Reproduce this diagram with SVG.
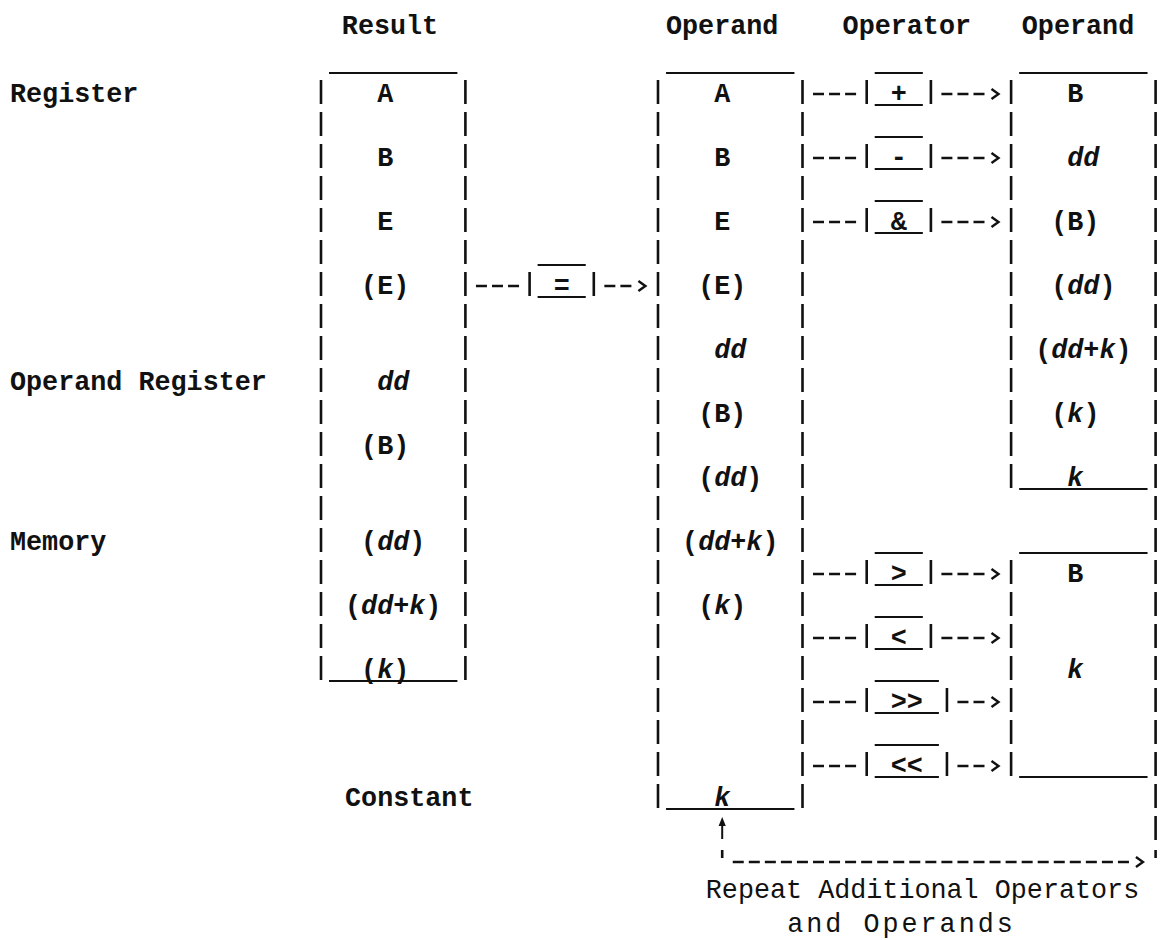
<svg xmlns="http://www.w3.org/2000/svg" xmlns:xlink="http://www.w3.org/1999/xlink" width="1160" height="940" viewBox="0 0 1160 940">
<style>
.t{font-family:"Liberation Mono","DejaVu Sans Mono",monospace;font-size:26.75px;font-weight:bold;fill:#111}
.i{font-style:italic}
.n{font-weight:normal}
.m{text-anchor:middle}
.bar{stroke:#111;stroke-width:2.6;stroke-dasharray:24 8;fill:none}
.ul{stroke:#111;stroke-width:2;fill:none}
.sb{stroke:#111;stroke-width:2.6;fill:none}
.dash{stroke:#111;stroke-width:2.6;stroke-dasharray:11 5.05;fill:none}
.arr{marker-end:url(#chev)}
</style>
<defs>
<marker id="chev" markerUnits="userSpaceOnUse" markerWidth="20" markerHeight="20" refX="-7" refY="0" orient="auto" overflow="visible">
<path d="M0,-5 L7,0 L0,5" fill="none" stroke="#111" stroke-width="2.4" stroke-dasharray="none"/>
</marker>
<g id="op3">
<line class="ul" x1="8" y1="-20" x2="56.15" y2="-20"/>
<line class="ul" x1="8" y1="12" x2="56.15" y2="12"/>
<line class="sb" x1="0" y1="-13" x2="0" y2="11"/>
<line class="sb" x1="64.2" y1="-13" x2="64.2" y2="11"/>
</g>
<g id="op4">
<line class="ul" x1="8" y1="-20" x2="72.2" y2="-20"/>
<line class="ul" x1="8" y1="12" x2="72.2" y2="12"/>
<line class="sb" x1="0" y1="-13" x2="0" y2="11"/>
<line class="sb" x1="80.25" y1="-13" x2="80.25" y2="11"/>
</g>
</defs>
<rect width="1160" height="940" fill="#fff"/>

<g id="headers">
<text class="t m" x="390" y="34">Result</text>
<text class="t m" x="722.2" y="34">Operand</text>
<text class="t m" x="906.8" y="34">Operator</text>
<text class="t m" x="1078" y="34">Operand</text>
</g>

<g id="labels">
<text class="t" x="10" y="102">Register</text>
<text class="t" x="10" y="390">Operand Register</text>
<text class="t" x="10" y="550">Memory</text>
<text class="t" x="345.05" y="806">Constant</text>
</g>

<g id="result">
<line class="ul" x1="329" y1="73" x2="457.4" y2="73"/>
<line class="ul" x1="329" y1="681" x2="457.4" y2="681"/>
<line class="bar" x1="321" y1="80" x2="321" y2="680"/>
<line class="bar" x1="465.4" y1="80" x2="465.4" y2="680"/>
<text class="t" x="377.15" y="102">A</text>
<text class="t" x="377.15" y="166">B</text>
<text class="t" x="377.15" y="230">E</text>
<text class="t" x="361.1" y="294">(E)</text>
<text class="t i" x="377.15" y="390">dd</text>
<text class="t" x="361.1" y="454">(B)</text>
<text class="t" x="361.1" y="550">(<tspan class="i">dd</tspan>)</text>
<text class="t" x="345.05" y="614">(<tspan class="i">dd</tspan>+<tspan class="i">k</tspan>)</text>
<text class="t" x="361.1" y="678">(<tspan class="i">k</tspan>)</text>
</g>

<g id="operand">
<line class="ul" x1="666.05" y1="73" x2="794.45" y2="73"/>
<line class="ul" x1="666.05" y1="809" x2="794.45" y2="809"/>
<line class="bar" x1="658" y1="80" x2="658" y2="808"/>
<line class="bar" x1="802.5" y1="80" x2="802.5" y2="808"/>
<text class="t" x="714.2" y="102">A</text>
<text class="t" x="714.2" y="166">B</text>
<text class="t" x="714.2" y="230">E</text>
<text class="t" x="698.15" y="294">(E)</text>
<text class="t i" x="714.2" y="358">dd</text>
<text class="t" x="698.15" y="422">(B)</text>
<text class="t" x="698.15" y="486">(<tspan class="i">dd</tspan>)</text>
<text class="t" x="682.1" y="550">(<tspan class="i">dd</tspan>+<tspan class="i">k</tspan>)</text>
<text class="t" x="698.15" y="614">(<tspan class="i">k</tspan>)</text>
<text class="t i" x="714.2" y="806">k</text>
</g>

<g id="operand-right-1">
<line class="ul" x1="1019.15" y1="73" x2="1147.55" y2="73"/>
<line class="ul" x1="1019.15" y1="489" x2="1147.55" y2="489"/>
<line class="bar" x1="1011.1" y1="80" x2="1011.1" y2="488"/>
<line class="bar" x1="1155.6" y1="80" x2="1155.6" y2="488"/>
<text class="t" x="1067.3" y="102">B</text>
<text class="t i" x="1067.3" y="166">dd</text>
<text class="t" x="1051.25" y="230">(B)</text>
<text class="t" x="1051.25" y="294">(<tspan class="i">dd</tspan>)</text>
<text class="t" x="1035.2" y="358">(<tspan class="i">dd</tspan>+<tspan class="i">k</tspan>)</text>
<text class="t" x="1051.25" y="422">(<tspan class="i">k</tspan>)</text>
<text class="t i" x="1067.3" y="486">k</text>
</g>

<g id="operand-right-2">
<line class="ul" x1="1019.15" y1="553" x2="1147.55" y2="553"/>
<line class="ul" x1="1019.15" y1="777" x2="1147.55" y2="777"/>
<line class="bar" x1="1011.1" y1="560" x2="1011.1" y2="776"/>
<line class="bar" x1="1155.6" y1="496" x2="1155.6" y2="776"/>
<text class="t" x="1067.3" y="582">B</text>
<text class="t i" x="1067.3" y="678">k</text>
</g>

<g id="op-assign">
<use xlink:href="#op3" x="529.6" y="285"/>
<text class="t" x="553.7" y="294">=</text>
</g>
<g id="op-plus">
<use xlink:href="#op3" x="866.7" y="93"/>
<text class="t" x="890.75" y="102">+</text>
</g>
<g id="op-minus">
<use xlink:href="#op3" x="866.7" y="157"/>
<text class="t" x="890.75" y="166">-</text>
</g>
<g id="op-and">
<use xlink:href="#op3" x="866.7" y="221"/>
<text class="t" x="890.75" y="230">&amp;</text>
</g>
<g id="op-gt">
<use xlink:href="#op3" x="866.7" y="573"/>
<text class="t" x="890.75" y="582">&gt;</text>
</g>
<g id="op-lt">
<use xlink:href="#op3" x="866.7" y="637"/>
<text class="t" x="890.75" y="646">&lt;</text>
</g>
<g id="op-shr">
<use xlink:href="#op4" x="866.7" y="701"/>
<text class="t" x="890.75" y="710">&gt;&gt;</text>
</g>
<g id="op-shl">
<use xlink:href="#op4" x="866.7" y="765"/>
<text class="t" x="890.75" y="774">&lt;&lt;</text>
</g>

<g id="connectors">
<path class="dash" d="M475.95,286 H519.05"/>
<path class="dash arr" d="M604.35,286 H631.4"/>
<path class="dash" d="M813,94 H856.1"/>
<path class="dash arr" d="M941.4,94 H984.5"/>
<path class="dash" d="M813,158 H856.1"/>
<path class="dash arr" d="M941.4,158 H984.5"/>
<path class="dash" d="M813,222 H856.1"/>
<path class="dash arr" d="M941.4,222 H984.5"/>
<path class="dash" d="M813,574 H856.1"/>
<path class="dash arr" d="M941.4,574 H984.5"/>
<path class="dash" d="M813,638 H856.1"/>
<path class="dash arr" d="M941.4,638 H984.5"/>
<path class="dash" d="M813,702 H856.1"/>
<path class="dash arr" d="M957.45,702 H984.5"/>
<path class="dash" d="M813,766 H856.1"/>
<path class="dash arr" d="M957.45,766 H984.5"/>
<line class="bar" x1="1155.6" y1="784" x2="1155.6" y2="840"/>
<line class="sb" x1="1155.6" y1="850" x2="1155.6" y2="858"/>
<line class="sb" x1="722.2" y1="850" x2="722.2" y2="858"/>
<path class="dash arr" d="M732.75,862 H1128.95"/>
<line x1="722.2" y1="839" x2="722.2" y2="824" stroke="#111" stroke-width="2"/>
<path d="M722.2,817 L718.6,826 L725.8,826 Z" fill="#111"/>
</g>

<g id="note">
<text class="t n m" x="922.5" y="898">Repeat Additional Operators</text>
<text class="t n m" x="901.5" y="932" letter-spacing="3">and Operands</text>
</g>
</svg>
